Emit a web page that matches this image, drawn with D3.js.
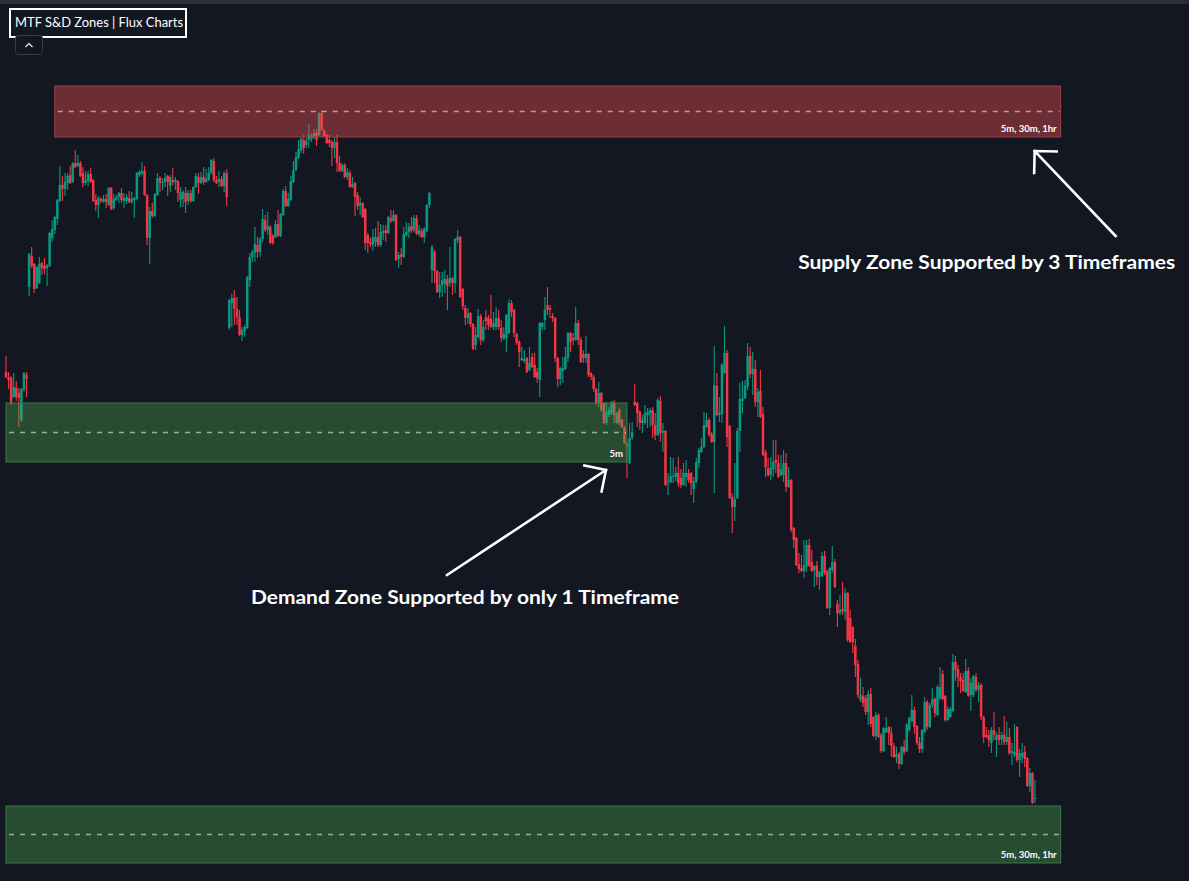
<!DOCTYPE html>
<html>
<head>
<meta charset="utf-8">
<script src="https://cdn.jsdelivr.net/npm/d3@7"></script>
<style>
  html, body { margin: 0; padding: 0; background: #131722; overflow: hidden; }
  svg { display: block; }
</style>
</head>
<body>
<svg id="chart" width="1189" height="881"></svg>
<script>
// ---- OHLC series (one entry per bar) ----
const opens = [
628,623,622,603,612,607,580,610,625,713,
744,736,712,717,737,734,732,734,762,770,
781,799,815,811,817,825,818,837,834,837,
827,817,819,826,820,800,795,801,798,801,
795,812,792,800,803,807,799,799,802,798,
800,801,825,827,829,805,762,789,784,805,
822,817,818,824,814,820,818,819,800,801,
807,799,807,799,813,823,817,823,818,820,
827,839,820,818,821,814,827,672,697,702,
691,683,665,669,672,720,743,747,755,748,
761,780,770,773,764,763,776,764,785,809,
794,800,818,830,842,850,860,855,860,861,
863,867,865,887,869,865,860,858,852,858,
837,829,835,823,827,813,817,805,794,797,
791,765,758,755,758,763,755,767,770,767,
782,779,785,741,746,743,765,768,774,770,
782,766,769,763,769,795,730,748,729,708,
715,716,721,717,722,717,760,763,711,692,
682,687,676,655,663,684,660,683,682,681,
673,673,682,672,661,662,667,697,690,666,
658,640,639,642,630,643,635,628,620,673,
680,695,692,684,682,642,621,629,631,642,
667,662,660,677,660,646,642,646,627,623,
611,597,607,597,577,585,587,598,577,590,
580,573,557,537,562,598,597,588,577,577,
585,587,590,575,565,599,567,569,518,518,
523,523,527,522,515,523,527,527,511,518,
537,548,553,573,580,566,558,614,585,586,
627,647,574,503,493,502,569,599,602,613,
644,626,631,598,609,586,548,532,525,531,
540,537,525,525,537,513,520,472,462,436,
432,429,434,455,438,430,434,423,424,444,
429,392,430,438,396,387,391,388,407,382,
373,354,336,300,304,302,288,306,283,264,
285,265,249,268,273,267,254,243,246,236,
253,249,270,279,290,274,257,251,268,298,
273,295,301,285,302,326,304,280,283,289,
338,331,323,320,308,329,305,305,323,310,
315,283,265,265,257,270,260,265,261,265,
258,263,247,245,273,240,243,248,242,214,
227,201
];
const highs = [
644,628,624,627,619,612,612,628,628,747,
753,737,734,743,738,742,736,768,780,784,
801,834,824,827,827,834,838,850,845,839,
833,829,829,832,821,806,804,803,805,806,
813,813,806,805,808,812,807,806,809,808,
803,828,830,838,834,806,793,797,807,827,
824,822,827,825,825,832,823,820,813,810,
813,810,810,814,827,827,828,833,831,833,
841,842,824,829,824,829,831,701,706,710,
703,690,673,675,724,747,750,773,763,763,
791,785,788,775,766,780,790,787,811,814,
807,824,839,848,860,863,865,862,876,867,
871,871,888,890,871,866,865,860,863,865,
844,837,837,832,830,823,818,808,803,798,
792,767,762,771,772,779,776,775,775,784,
790,790,786,748,752,773,778,777,783,785,
785,775,772,773,796,808,755,750,730,728,
728,730,725,753,723,762,770,764,712,695,
692,688,677,673,691,686,680,690,685,705,
688,693,690,680,673,686,701,700,691,667,
660,653,650,643,653,647,647,632,678,678,
703,713,695,687,683,643,633,643,653,668,
668,667,693,680,663,650,664,647,628,625,
612,618,608,598,598,593,599,600,588,592,
581,574,559,577,578,616,598,590,585,595,
592,592,593,587,602,604,577,570,527,543,
542,533,543,531,537,540,531,528,523,542,
552,562,588,587,582,568,654,627,603,637,
674,650,575,507,537,572,617,619,620,657,
653,648,640,612,630,593,550,542,543,560,
560,545,545,550,547,533,521,473,463,447,
445,460,460,461,450,435,439,429,448,449,
430,433,454,441,400,405,418,412,408,390,
374,361,340,322,313,305,310,312,284,288,
287,267,273,283,274,273,257,253,248,254,
260,277,283,305,293,275,263,271,303,300,
297,312,303,315,333,330,305,294,293,346,
344,335,327,327,341,333,322,325,327,318,
317,284,273,270,273,288,268,273,268,284,
278,272,257,276,274,251,257,254,243,232,
228,220
];
const lows = [
622,611,595,602,599,573,578,608,603,704,
732,707,711,716,725,726,714,733,758,766,
775,798,799,804,810,816,817,832,833,823,
813,815,814,817,798,789,782,797,797,792,
794,790,790,799,797,797,792,796,797,796,
782,800,823,825,804,755,736,782,783,804,
808,810,813,804,808,815,810,798,793,793,
787,795,797,798,812,806,816,815,817,819,
826,818,816,813,813,808,794,670,673,675,
675,664,659,663,671,713,738,738,742,743,
758,768,765,756,755,762,763,763,784,793,
793,799,817,829,841,847,846,852,852,858,
861,854,864,869,863,856,853,834,842,828,
828,828,822,820,812,812,784,790,785,782,
750,747,753,749,753,753,753,760,758,766,
777,778,739,732,735,742,763,762,767,768,
765,763,762,757,768,792,717,717,707,702,
703,707,690,713,705,707,757,702,690,675,
676,673,650,650,662,655,658,670,670,672,
670,670,670,658,660,648,666,683,663,655,
633,639,637,627,629,632,622,617,603,670,
670,685,682,678,638,613,615,617,630,638,
648,655,659,655,637,637,637,623,620,608,
595,593,588,576,575,583,585,577,576,575,
572,556,522,536,560,594,573,570,567,575,
572,573,562,560,564,558,548,514,505,517,
517,519,513,512,514,513,517,505,497,517,
532,547,552,572,563,557,507,584,578,577,
626,553,501,467,479,501,548,587,601,610,
622,605,593,583,582,544,523,523,520,523,
527,522,524,518,508,512,468,452,434,427,
428,422,428,433,428,413,415,410,423,425,
391,385,427,412,373,385,385,380,358,357,
347,323,302,298,293,285,275,273,263,260,
262,247,248,267,255,243,242,237,231,235,
245,248,268,278,266,255,247,247,267,270,
272,292,283,284,300,300,278,279,282,288,
319,313,307,308,307,303,289,303,308,298,
280,257,262,253,247,260,243,255,255,255,
255,245,235,243,238,223,237,233,213,208,
196,197
];
const closes = [
623,620,597,613,603,602,611,627,621,746,
734,711,733,736,732,731,735,767,771,783,
800,815,811,818,824,817,837,833,837,824,
817,820,826,818,799,795,802,799,801,798,
812,791,801,803,807,800,802,803,798,801,
802,827,828,829,805,762,789,784,806,822,
817,818,822,818,823,818,820,807,808,808,
798,807,799,813,824,817,823,818,821,827,
840,820,817,821,814,827,803,700,702,691,
683,665,670,673,723,743,748,756,748,761,
781,770,774,757,757,776,764,786,809,794,
801,819,830,843,851,861,852,859,865,864,
867,860,887,870,864,857,857,852,858,837,
829,835,823,828,813,816,803,794,797,783,
757,757,756,763,763,755,768,769,767,783,
779,785,740,745,743,766,768,773,769,782,
766,770,763,771,795,807,753,729,708,715,
720,721,714,722,717,761,763,703,694,682,
687,676,651,665,684,660,673,679,675,673,
677,682,673,662,666,685,697,688,667,657,
648,642,641,628,637,633,623,622,677,677,
690,690,690,682,642,621,632,632,643,667,
658,660,677,660,638,642,646,625,623,611,
597,607,590,577,588,590,598,585,587,577,
573,557,553,562,568,595,587,577,580,587,
588,590,575,565,600,567,569,515,519,524,
524,527,517,515,527,527,520,517,519,538,
550,553,575,580,565,558,615,585,587,635,
647,563,502,493,501,569,601,602,614,644,
626,631,598,608,583,545,533,525,532,538,
537,523,531,537,513,520,470,460,435,431,
429,435,455,434,429,434,423,428,444,427,
392,432,438,413,387,390,389,407,360,358,
358,335,305,305,297,288,306,276,264,285,
263,249,272,272,267,254,243,246,236,253,
248,275,282,290,273,257,251,270,298,273,
295,301,287,313,313,301,280,291,291,338,
330,323,319,309,329,304,317,324,310,315,
283,263,263,260,270,265,265,260,265,258,
263,247,249,248,240,247,247,241,214,227,
197,202
];

// ---- supply / demand zones ----
const zoneKinds   = ["supply", "demand", "demand"];
const zoneTops    = [914, 597, 194];
const zoneBottoms = [863, 538, 137];
const zoneStarts  = [19, 0, 0];      // first bar index covered
const zoneEnds    = [411, 242, 411]; // bar index where the box stops
const zoneLabels  = ["5m, 30m, 1hr", "5m", "5m, 30m, 1hr"];

// ---- text ----
const titleText = "MTF S&D Zones | Flux Charts";
const noteTexts = ["Supply Zone Supported by 3 Timeframes", "Demand Zone Supported by only 1 Timeframe"];
const noteZone  = [0, 1]; // zone each note points at

if (new Set([opens.length, highs.length, lows.length, closes.length]).size !== 1) {
  throw new Error("OHLC arrays differ in length: " + [opens.length, highs.length, lows.length, closes.length]);
}

const W = 1189, H = 881;
const BG = "#131722";
const UP = "#089981", DOWN = "#f23645";

const svg = d3.select("#chart");
svg.append("rect").attr("width", W).attr("height", H).attr("fill", BG);
svg.append("rect").attr("width", W).attr("height", 4).attr("fill", "#2a2e39");

const n = closes.length;
const bars = d3.range(n).map(i => ({ i, o: opens[i], h: highs[i], l: lows[i], c: closes[i] }));

const x = d3.scaleLinear().domain([0, n - 1]).range([6, 1035]);
const y = d3.scaleLinear().domain([119, 1000]).range([H, 0]);

// ---- candles ----
const gC = svg.append("g");
const candle = gC.selectAll("g.bar").data(bars).join("g").attr("class", "bar");
candle.append("rect")
  .attr("x", d => x(d.i) - 0.55)
  .attr("width", 1.1)
  .attr("y", d => y(Math.max(d.h, d.o, d.c)))
  .attr("height", d => Math.max(1, y(Math.min(d.l, d.o, d.c)) - y(Math.max(d.h, d.o, d.c))))
  .attr("fill", d => d.c >= d.o ? UP : DOWN);
candle.append("rect")
  .attr("x", d => x(d.i) - 1.25)
  .attr("width", 2.5)
  .attr("y", d => y(Math.max(d.o, d.c)))
  .attr("height", d => Math.max(1, Math.abs(y(d.o) - y(d.c))))
  .attr("fill", d => d.c >= d.o ? UP : DOWN);

// ---- zones (translucent, over the candles) ----
const zones = zoneKinds.map((k, j) => ({
  kind: k, top: zoneTops[j], bottom: zoneBottoms[j],
  start: zoneStarts[j], end: zoneEnds[j], label: zoneLabels[j]
}));
const zoneStyle = {
  supply: { fill: "rgba(255,82,82,0.38)", stroke: "#a43c44" },
  demand: { fill: "rgba(76,175,80,0.35)", stroke: "#3b7a43" }
};
const gZ = svg.append("g");
const zg = gZ.selectAll("g.zone").data(zones).join("g").attr("class", "zone");
zg.append("rect")
  .attr("x", d => x(d.start))
  .attr("y", d => y(d.top))
  .attr("width", d => x(d.end) - x(d.start))
  .attr("height", d => y(d.bottom) - y(d.top))
  .attr("fill", d => zoneStyle[d.kind].fill)
  .attr("stroke", d => zoneStyle[d.kind].stroke)
  .attr("stroke-width", 1);
zg.append("line")
  .attr("x1", d => x(d.start) + 3)
  .attr("x2", d => x(d.end) - 1)
  .attr("y1", d => y((d.top + d.bottom) / 2))
  .attr("y2", d => y((d.top + d.bottom) / 2))
  .attr("stroke", "rgba(255,255,255,0.55)")
  .attr("stroke-width", 1.5)
  .attr("stroke-dasharray", "5,6");
zg.append("text")
  .attr("x", d => x(d.end) - 4)
  .attr("y", d => y(d.bottom) - 5)
  .attr("text-anchor", "end")
  .attr("fill", "#ffffff")
  .attr("font-family", "Lato, 'Noto Sans', sans-serif")
  .attr("font-weight", 700)
  .attr("font-size", 9.5)
  .text(d => d.label);

// ---- annotations ----
function arrow(g, tail, tip) {
  const dx = tail[0] - tip[0], dy = tail[1] - tip[1];
  const len = Math.hypot(dx, dy), ux = dx / len, uy = dy / len;
  const leg = 22, a = Math.PI / 4;
  const rot = s => [ux * Math.cos(s * a) - uy * Math.sin(s * a), ux * Math.sin(s * a) + uy * Math.cos(s * a)];
  const l1 = rot(1), l2 = rot(-1);
  const st = sel => sel.attr("stroke", "#ffffff").attr("stroke-width", 2.6).attr("fill", "none").attr("stroke-linecap", "square");
  st(g.append("line").attr("x1", tail[0]).attr("y1", tail[1]).attr("x2", tip[0]).attr("y2", tip[1]));
  st(g.append("polyline").attr("points", [
    [tip[0] + l1[0] * leg, tip[1] + l1[1] * leg], tip, [tip[0] + l2[0] * leg, tip[1] + l2[1] * leg]
  ].map(p => p.join(",")).join(" ")));
}

const gA = svg.append("g");
const noteFont = "Lato, 'Noto Sans', sans-serif";
{
  // supply note: arrow rises to the lower right corner of the supply box
  const z = zones[noteZone[0]];
  const tip = [x(z.end) - 26, y(z.bottom) + 14];
  const tail = [tip[0] + 81, tip[1] + 85];
  arrow(gA, tail, tip);
  gA.append("text").attr("x", tail[0] - 129).attr("y", tail[1] + 33)
    .attr("text-anchor", "middle").attr("fill", "#ffffff")
    .attr("font-family", noteFont).attr("font-weight", 700).attr("font-size", 19)
    .attr("textLength", 377).attr("lengthAdjust", "spacingAndGlyphs")
    .text(noteTexts[0]);
}
{
  // demand note: arrow climbs to the lower right corner of the first demand box
  const z = zones[noteZone[1]];
  const tip = [x(z.end) - 21, y(z.bottom) + 8];
  const tail = [tip[0] - 159, tip[1] + 105];
  arrow(gA, tail, tip);
  gA.append("text").attr("x", tail[0] + 18).attr("y", tail[1] + 29)
    .attr("text-anchor", "middle").attr("fill", "#ffffff")
    .attr("font-family", noteFont).attr("font-weight", 700).attr("font-size", 19)
    .attr("textLength", 428).attr("lengthAdjust", "spacingAndGlyphs")
    .text(noteTexts[1]);
}

// ---- indicator title box and collapse button ----
const gT = svg.append("g");
gT.append("rect").attr("x", 10).attr("y", 9).attr("width", 176).attr("height", 28)
  .attr("fill", BG).attr("stroke", "#ffffff").attr("stroke-width", 2);
gT.append("text").attr("x", 15).attr("y", 27)
  .attr("fill", "#ffffff").attr("font-family", "Lato, 'Noto Sans', sans-serif")
  .attr("font-size", 13.5).attr("textLength", 168).attr("lengthAdjust", "spacingAndGlyphs")
  .text(titleText);
gT.append("rect").attr("x", 15.5).attr("y", 35.5).attr("width", 27).attr("height", 19).attr("rx", 3)
  .attr("fill", BG).attr("stroke", "#363a45").attr("stroke-width", 1);
gT.append("polyline").attr("points", "25.5,47 29,43.5 32.5,47")
  .attr("fill", "none").attr("stroke", "#d1d4dc").attr("stroke-width", 1.5);
</script>
</body>
</html>
